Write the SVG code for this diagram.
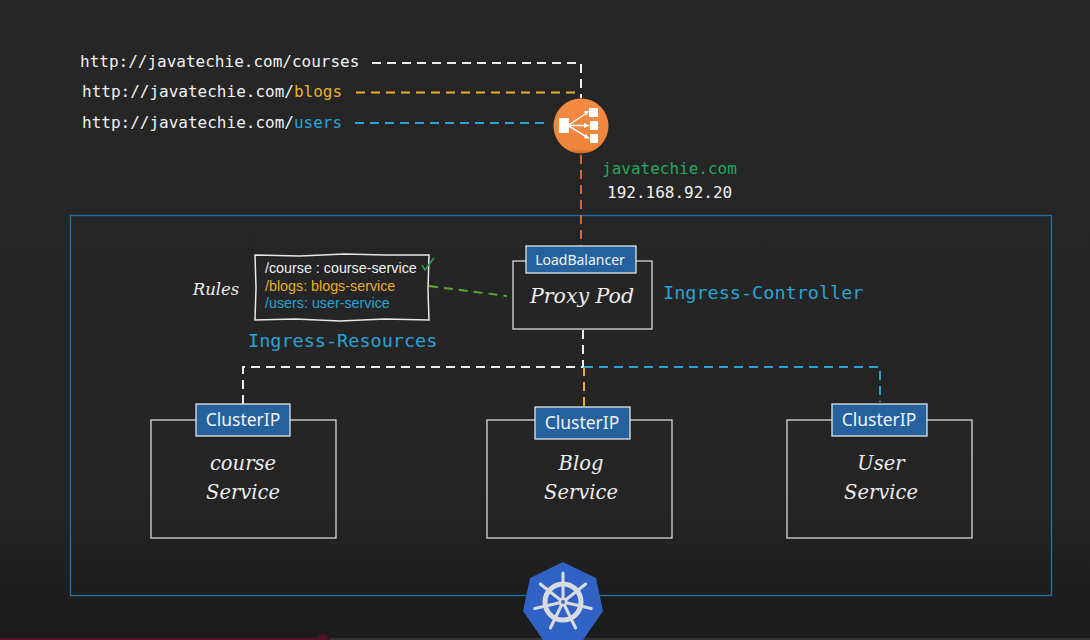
<svg xmlns="http://www.w3.org/2000/svg" width="1090" height="640" viewBox="0 0 1090 640">
<style>
.mono{font-family:"DejaVu Sans Mono","Liberation Mono",monospace;font-size:16px;fill:#f2f2f2}
.blue{fill:#29a3d6}.yel{fill:#e9ae2c}.grn{fill:#22a85a}
.big{font-size:18.5px}
.box{fill:none;stroke:#d8d8d8;stroke-width:1.3}
.tag{fill:#25619d;stroke:#e4e4e4;stroke-width:1.3}
.tagt{font-family:"Noto Sans","Liberation Sans",sans-serif;font-size:17.5px;fill:#eef2f6;text-anchor:middle}
.hand{font-family:"DejaVu Serif","Liberation Serif",serif;font-style:italic;fill:#ededed;text-anchor:middle;font-size:19.5px}
.rule{font-family:"Liberation Sans",Arial,sans-serif;font-size:14.3px}
.d{fill:none;stroke-width:2;stroke-dasharray:9 6}
</style>
<defs>
<linearGradient id="bg" x1="0" y1="0" x2="0" y2="1"><stop offset="0" stop-color="#262626"/><stop offset="0.8" stop-color="#242424"/><stop offset="0.94" stop-color="#1c1c1c"/><stop offset="1" stop-color="#1c1c1c"/></linearGradient>
<linearGradient id="lb" x1="0" y1="0" x2="0" y2="1"><stop offset="0" stop-color="#f58b42"/><stop offset="0.92" stop-color="#ee8439"/><stop offset="1" stop-color="#c4692b"/></linearGradient>
</defs>
<rect width="1090" height="640" fill="url(#bg)"/>
<g id="progress"><rect x="0" y="638" width="320" height="2" fill="#4f1226"/><circle cx="323" cy="640" r="6" fill="#4f1226"/><rect x="330" y="638" width="770" height="2" fill="#333"/></g>

<rect id="cluster" x="70.500" y="215.500" width="981" height="380" fill="none" stroke="#1f6fa3" stroke-width="1.4"/>

<g id="connectors">
<path class="d" stroke="#ececec" d="M372 63H581V98"/>
<path class="d" stroke="#e9ae2c" d="M356 92.500H581"/>
<path class="d" stroke="#29a3d6" d="M355 123H545"/>
<path class="d" stroke="#d0693a" d="M581 155V246"/>
<path class="d" stroke="#5aa637" d="M429 286L507 296"/>
<path class="d" stroke="#ececec" d="M583 330V367H243V404"/>
<path class="d" stroke="#e9ae2c" d="M584 367V406"/>
<path class="d" stroke="#29a3d6" stroke-width="1.700" d="M584 367H880V402"/>
</g>

<g id="urls">
<text class="mono" x="80" y="67">http://javatechie.com/courses</text>
<text class="mono" x="82" y="97">http://javatechie.com/<tspan class="yel">blogs</tspan></text>
<text class="mono" x="82" y="128">http://javatechie.com/<tspan class="blue">users</tspan></text>
</g>

<g id="load-balancer-icon">
<circle cx="581" cy="126" r="27.500" fill="url(#lb)"/>
<g fill="#fff">
<rect x="559" y="118" width="10" height="15"/>
<rect x="589" y="108" width="9" height="9"/><rect x="590" y="121" width="8" height="9"/><rect x="590" y="134" width="8" height="9"/>
<path d="M589 111L584 111L586 116Z"/><path d="M590 125.500L584 123L584 128Z"/><path d="M590 139L586 134L584 138Z"/>
</g>
<path d="M568 125.500L586 113.500M568 125.500H585M568 125.500L586 136.500" stroke="#fff" stroke-width="1.500" fill="none"/>
</g>
<g id="dns">
<text class="mono grn" x="602" y="174">javatechie.com</text>
<text class="mono" x="607" y="198">192.168.92.20</text>
</g>

<g id="rules">
<text class="hand" x="216" y="295" style="font-size:16.500px">Rules</text>
<path d="M255 255L300 256L345 254L385 255L429 255L428 290L429 320L385 319L340 321L295 319L255 320L256 288Z" fill="none" stroke="#e8e8e8" stroke-width="1.500"/>
<text class="rule" x="265" y="273" fill="#f0f0f0">/course : course-service</text>
<text class="rule yel" x="265" y="291">/blogs: blogs-service</text>
<text class="rule blue" x="265" y="308">/users: user-service</text>
<path d="M422 265L425 270L434 258" fill="none" stroke="#2f9e46" stroke-width="1.500"/>
<text class="mono blue big" x="248" y="347">Ingress-Resources</text>
</g>

<g id="proxy-pod">
<rect class="box" x="513" y="261" width="139" height="68"/>
<rect class="tag" x="526" y="246" width="110" height="27"/>
<text class="tagt" x="580" y="265" style="font-size:14px">LoadBalancer</text>
<text class="hand" x="582" y="303" style="font-size:20.500px">Proxy Pod</text>
<text class="mono blue big" x="663" y="299">Ingress-Controller</text>
</g>

<g id="course-service">
<rect class="box" x="151" y="420" width="185" height="118"/>
<rect class="tag" x="196" y="404" width="94" height="32"/>
<text class="tagt" x="243" y="426">ClusterIP</text>
<text class="hand" x="243" y="470">course</text>
<text class="hand" x="243" y="499">Service</text>
</g>
<g id="blog-service">
<rect class="box" x="487" y="420" width="185" height="118"/>
<rect class="tag" x="535" y="407" width="95" height="32"/>
<text class="tagt" x="582" y="429">ClusterIP</text>
<text class="hand" x="581" y="470">Blog</text>
<text class="hand" x="581" y="499">Service</text>
</g>
<g id="user-service">
<rect class="box" x="787" y="420" width="185" height="118"/>
<rect class="tag" x="832" y="404" width="95" height="32"/>
<text class="tagt" x="879" y="426">ClusterIP</text>
<text class="hand" x="881" y="470">User</text>
<text class="hand" x="881" y="499">Service</text>
</g>

<g id="kubernetes-logo">
<path d="M563 562L596 578L603 611L583 640H543L523 611L530 578Z" fill="#2f62c4"/>
<g fill="none" stroke="#d9dbe0" stroke-linecap="round">
<circle cx="563" cy="602" r="18" stroke-width="5"/>
<path stroke-width="3" d="M563 602V573M563 602L585.700 584M563 602L591.300 608.500M563 602L575.600 628M563 602L550.400 628M563 602L534.700 608.500M563 602L540.300 584"/>
</g>
<circle cx="563" cy="602" r="4.500" fill="#d9dbe0"/>
<circle cx="563" cy="602" r="2" fill="#3f6cc0"/>
</g>
</svg>
